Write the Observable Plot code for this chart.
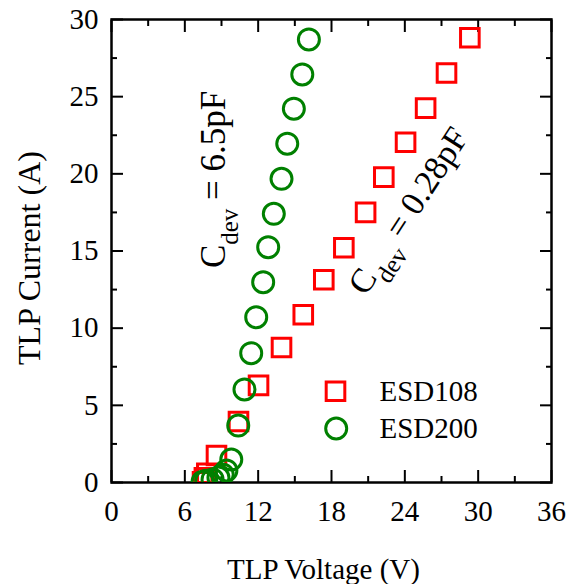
<!DOCTYPE html>
<html>
<head>
<meta charset="utf-8">
<script src="https://cdn.jsdelivr.net/npm/d3@7"></script>
<script src="https://cdn.jsdelivr.net/npm/@observablehq/plot@0.6"></script>
<style>
  html, body { margin: 0; padding: 0; background: #fff; }
</style>
</head>
<body>
<div id="chart"></div>
<script>
// ---- data ----
const esd108Voltage = [7.45, 7.6, 7.8, 8.59, 10.39, 12.03, 13.91, 15.69, 17.37, 19.01, 20.79, 22.28, 24.06, 25.70, 27.41, 29.32];
const esd108Current = [0.05, 0.3, 0.6, 1.75, 3.95, 6.29, 8.75, 10.87, 13.14, 15.21, 17.50, 19.79, 22.05, 24.26, 26.53, 28.82];
const esd200Voltage = [7.45, 7.75, 8.27, 8.75, 9.1, 9.4, 9.8, 10.37, 10.88, 11.43, 11.84, 12.41, 12.82, 13.28, 13.91, 14.38, 14.92, 15.61, 16.15];
const esd200Current = [0.05, 0.12, 0.2, 0.32, 0.52, 0.78, 1.49, 3.69, 6.03, 8.38, 10.71, 12.98, 15.25, 17.41, 19.68, 21.95, 24.22, 26.44, 28.71];

const seriesNames = ["ESD108", "ESD200"];
const xMajorTicks = [0, 6, 12, 18, 24, 30, 36];
const xMinorTicks = [3, 9, 15, 21, 27, 33];
const yMajorTicks = [0, 5, 10, 15, 20, 25, 30];
const yMinorTicks = [2.5, 7.5, 12.5, 17.5, 22.5, 27.5];
const xTitle = "TLP Voltage (V)";
const yTitle = "TLP Current (A)";
const annBase = "C";
const annSub = "dev";
const annValues = ["6.5pF", "0.28pF"];
const annVoltage = [8.35, 24.3];
const annCurrent = [19.64, 17.6];

// ---- tables ----
const esd108 = esd108Voltage.map((v, k) => ({v, i: esd108Current[k]}));
const esd200 = esd200Voltage.map((v, k) => ({v, i: esd200Current[k]}));
const annotations = annValues.map((val, k) => ({v: annVoltage[k], i: annCurrent[k], sub: annSub, val, label: `${annBase}${annSub} = ${val}`}));

const FONT = "'Liberation Serif', 'Times New Roman', Times, serif";
const RED = "#ff0000";
const GREEN = "#008000";

const plot = Plot.plot({
  width: 568,
  height: 584,
  marginLeft: 111,
  marginRight: 17,
  marginTop: 19,
  marginBottom: 102,
  style: {fontFamily: FONT, fontSize: "29px", background: "#fff", color: "#000", overflow: "visible"},
  x: {domain: [0, 36], label: null},
  y: {domain: [0, 30], label: null},
  marks: [
    // bottom axis
    Plot.axisX(xMajorTicks, {anchor: "bottom", tickSize: -12, tickPadding: 29.5, strokeWidth: 2, fontSize: 29, label: null}),
    Plot.axisX(xMinorTicks, {anchor: "bottom", tickSize: -6, strokeWidth: 2, fill: "none", label: null}),
    // top axis (mirror ticks)
    Plot.axisX(xMajorTicks, {anchor: "top", tickSize: -12, strokeWidth: 2, fill: "none", label: null}),
    Plot.axisX(xMinorTicks, {anchor: "top", tickSize: -6, strokeWidth: 2, fill: "none", label: null}),
    // left axis
    Plot.axisY(yMajorTicks, {anchor: "left", tickSize: -12, tickPadding: 25, strokeWidth: 2, fontSize: 29, label: null}),
    Plot.axisY(yMinorTicks, {anchor: "left", tickSize: -6, strokeWidth: 2, fill: "none", label: null}),
    // right axis (mirror ticks)
    Plot.axisY(yMajorTicks, {anchor: "right", tickSize: -12, strokeWidth: 2, fill: "none", label: null}),
    Plot.axisY(yMinorTicks, {anchor: "right", tickSize: -6, strokeWidth: 2, fill: "none", label: null}),
    Plot.frame({strokeWidth: 2.5}),

    // data
    Plot.dot(esd108, {x: "v", y: "i", symbol: "square", r: 10.5, stroke: RED, strokeWidth: 3, fill: "none", clip: true}),
    Plot.dot(esd200, {x: "v", y: "i", symbol: "circle", r: 10.5, stroke: GREEN, strokeWidth: 3, fill: "none", clip: true}),

    // annotations
    Plot.text([annotations[0]], {x: "v", y: "i", text: "label", rotate: -90, fontSize: 35, textAnchor: "middle", lineAnchor: "middle", className: "ann"}),
    Plot.text([annotations[1]], {x: "v", y: "i", text: "label", rotate: -57, fontSize: 34, textAnchor: "middle", lineAnchor: "middle", className: "ann"}),

    // legend
    Plot.dot([seriesNames[0]], {frameAnchor: "bottom-left", dx: 224, dy: -91.3, symbol: "square", r: 10.5, stroke: RED, strokeWidth: 3, fill: "none"}),
    Plot.dot([seriesNames[1]], {frameAnchor: "bottom-left", dx: 224.7, dy: -54, symbol: "circle", r: 10.5, stroke: GREEN, strokeWidth: 3, fill: "none"}),
    Plot.text([seriesNames[0]], {text: d => d, frameAnchor: "bottom-left", dx: 268, dy: -90.6, textAnchor: "start", lineAnchor: "middle", fontSize: 29}),
    Plot.text([seriesNames[1]], {text: d => d, frameAnchor: "bottom-left", dx: 268, dy: -53.3, textAnchor: "start", lineAnchor: "middle", fontSize: 29}),

    // axis titles
    Plot.text([xTitle], {text: d => d, frameAnchor: "bottom", dx: -8, dy: 87, textAnchor: "middle", lineAnchor: "middle", fontSize: 29}),
    Plot.text([yTitle], {text: d => d, frameAnchor: "left", dx: -82, dy: 7, rotate: -90, textAnchor: "middle", lineAnchor: "middle", fontSize: 32})
  ]
});

// rebuild annotation text with a subscript
d3.select(plot).selectAll("g.ann text").each(function() {
  const t = d3.select(this);
  const full = t.text();
  const ann = annotations.find(a => a.label === full);
  if (!ann) return;
  t.text(null);
  t.append("tspan").text(annBase);
  t.append("tspan").attr("font-size", 25).attr("dy", 13).text(ann.sub);
  t.append("tspan").attr("dy", -13).text(` = ${ann.val}`);
});

document.getElementById("chart").appendChild(plot);
</script>
</body>
</html>
